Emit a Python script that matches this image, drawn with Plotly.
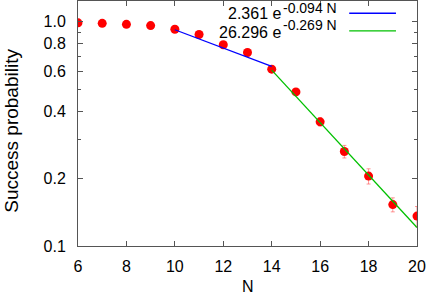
import plotly.graph_objects as go

N = [6, 7, 8, 9, 10, 11, 12, 13, 14, 15, 16, 17, 18, 19, 20]
prob = [0.99, 0.985, 0.975, 0.962, 0.927, 0.878, 0.79, 0.73, 0.615, 0.487, 0.358, 0.264, 0.205, 0.153, 0.136]
err = [0.004, 0.004, 0.004, 0.005, 0.006, 0.007, 0.008, 0.009, 0.010, 0.012, 0.015, 0.017, 0.016, 0.011, 0.014]

fit1_N = [10, 14]
fit1_p = [0.922, 0.633]
fit2_N = [14, 20]
fit2_p = [0.609, 0.121]

ytick_vals = [0.1, 0.2, 0.4, 0.6, 0.8, 1.0]
ytick_text = ["0.1", "0.2", "0.4", "0.6", "0.8", "1.0"]
yminor_vals = [0.3, 0.5, 0.7, 0.9]
xtick_vals = [6, 8, 10, 12, 14, 16, 18, 20]

fit_labels = ["2.361 e", "26.296 e"]
fit_exps = ["-0.094 N", "-0.269 N"]
fit_colors = ["#0000ff", "#00c000"]

FONT = "Liberation Sans, Arial, sans-serif"
AX = "#555555"

fig = go.Figure()
fig.add_trace(go.Scatter(
    x=N, y=prob, mode="markers",
    marker=dict(color="#ff0000", size=9),
    error_y=dict(type="data", array=err, visible=True, color="rgba(255,80,80,0.6)", thickness=1, width=2),
    showlegend=False,
))
fig.add_trace(go.Scatter(x=fit1_N, y=fit1_p, mode="lines", line=dict(color=fit_colors[0], width=1.3), showlegend=False))
fig.add_trace(go.Scatter(x=fit2_N, y=fit2_p, mode="lines", line=dict(color=fit_colors[1], width=1.3), showlegend=False))

axis_common = dict(
    showline=True, linecolor=AX, linewidth=1, mirror="allticks",
    ticks="inside", tickcolor=AX, showgrid=False, zeroline=False, automargin=False,
    tickfont=dict(family=FONT, size=16, color="black"),
)

fig.update_xaxes(range=[6, 20], tickvals=xtick_vals, ticklen=5, ticklabelstandoff=6, **axis_common)
fig.update_yaxes(
    type="log", range=[-1, 0.093], tickvals=ytick_vals, ticktext=ytick_text, ticklen=5, ticklabelstandoff=8,
    minor=dict(tickvals=yminor_vals, ticks="inside", ticklen=3, tickcolor=AX, showgrid=False),
    **axis_common,
)

# axis titles
fig.add_annotation(x=0.5, y=-0.208, xref="paper", yref="paper", text="N", showarrow=False,
                   xanchor="center", yanchor="bottom", font=dict(family=FONT, size=16, color="black"))
fig.add_annotation(x=-0.195, y=0.47, xref="paper", yref="paper", text="Success probability", showarrow=False,
                   textangle=-90, xanchor="center", yanchor="middle", font=dict(family=FONT, size=19, color="black"))

# key (text left, line sample right, as in the original)
rows = [(0.951, 0.971, 0.950), (0.873, 0.902, 0.878)]
for i, (ym, ys, yl) in enumerate(rows):
    fig.add_annotation(x=0.602, y=ym, xref="paper", yref="paper", text=fit_labels[i], showarrow=False,
                       xanchor="right", yanchor="middle", xshift=1,
                       font=dict(family=FONT, size=16, color="black"))
    fig.add_annotation(x=0.602, y=ys, xref="paper", yref="paper", text=fit_exps[i], showarrow=False,
                       xanchor="left", yanchor="middle", xshift=-1,
                       font=dict(family=FONT, size=14, color="black"))
    fig.add_shape(type="line", xref="paper", yref="paper", x0=0.80, x1=0.938, y0=yl, y1=yl,
                  line=dict(color=fit_colors[i], width=1.3))

fig.update_layout(
    width=429, height=297,
    margin=dict(l=78, r=12, t=1, b=51),
    plot_bgcolor="white", paper_bgcolor="white",
    font=dict(family=FONT),
)

fig.write_html("out.html", config={"displayModeBar": False},
               post_script="document.body.style.margin='0px';")
